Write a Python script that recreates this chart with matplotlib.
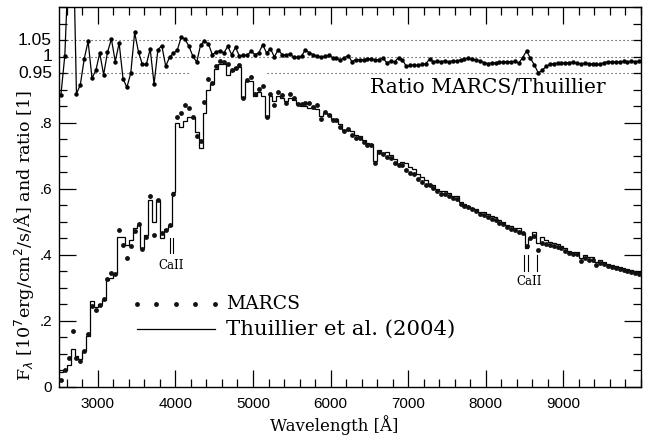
import numpy as np
import matplotlib
matplotlib.use("Agg")
import matplotlib.pyplot as plt
from matplotlib.ticker import MultipleLocator, FixedLocator
import matplotlib.transforms as mtransforms

# ---------------- data ----------------
bin_width = 50
wavelength = np.arange(2525, 10000, bin_width)  # bin centres [A]

marcs = [
    0.020, 0.051, 0.088, 0.170, 0.088, 0.079, 0.109, 0.159, 0.245, 0.233,
    0.248, 0.266, 0.328, 0.345, 0.342, 0.475, 0.431, 0.390, 0.428, 0.471,
    0.494, 0.417, 0.455, 0.577, 0.460, 0.565, 0.466, 0.474, 0.490, 0.585,
    0.816, 0.830, 0.853, 0.845, 0.816, 0.760, 0.745, 0.862, 0.933, 0.919,
    0.970, 0.988, 0.984, 0.979, 0.958, 0.966, 0.975, 0.874, 0.930, 0.939,
    0.887, 0.903, 0.912, 0.818, 0.887, 0.852, 0.892, 0.883, 0.859, 0.888,
    0.875, 0.856, 0.855, 0.859, 0.859, 0.848, 0.852, 0.812, 0.832, 0.824,
    0.809, 0.807, 0.787, 0.776, 0.780, 0.764, 0.755, 0.753, 0.741, 0.733,
    0.731, 0.678, 0.711, 0.705, 0.697, 0.693, 0.679, 0.673, 0.673, 0.658,
    0.647, 0.644, 0.629, 0.620, 0.612, 0.610, 0.602, 0.592, 0.585, 0.584,
    0.579, 0.572, 0.569, 0.554, 0.549, 0.545, 0.539, 0.533, 0.524, 0.521,
    0.513, 0.508, 0.505, 0.496, 0.492, 0.484, 0.479, 0.474, 0.470, 0.466,
    0.427, 0.450, 0.458, 0.415, 0.435, 0.432, 0.430, 0.427, 0.424, 0.420,
    0.412, 0.405, 0.403, 0.401, 0.380, 0.390, 0.385, 0.383, 0.368, 0.376,
    0.371, 0.366, 0.364, 0.361, 0.358, 0.355, 0.352, 0.349, 0.346, 0.342,
]

thuillier = [
    0.046, 0.050, 0.066, 0.115, 0.095, 0.085, 0.110, 0.155, 0.259, 0.243,
    0.250, 0.262, 0.325, 0.330, 0.342, 0.455, 0.455, 0.430, 0.445, 0.482,
    0.490, 0.420, 0.460, 0.567, 0.500, 0.567, 0.450, 0.478, 0.487, 0.590,
    0.800, 0.786, 0.804, 0.817, 0.817, 0.772, 0.723, 0.829, 0.900, 0.917,
    0.961, 0.976, 0.976, 0.945, 0.955, 0.968, 0.968, 0.875, 0.925, 0.925,
    0.880, 0.893, 0.880, 0.816, 0.880, 0.865, 0.880, 0.875, 0.865, 0.875,
    0.868, 0.855, 0.850, 0.850, 0.845, 0.845, 0.840, 0.819, 0.829, 0.826,
    0.811, 0.811, 0.795, 0.779, 0.778, 0.776, 0.762, 0.761, 0.748, 0.739,
    0.735, 0.685, 0.717, 0.708, 0.711, 0.703, 0.690, 0.675, 0.680, 0.678,
    0.665, 0.661, 0.646, 0.635, 0.626, 0.615, 0.611, 0.600, 0.594, 0.592,
    0.588, 0.579, 0.577, 0.560, 0.553, 0.548, 0.543, 0.538, 0.531, 0.531,
    0.524, 0.518, 0.515, 0.505, 0.500, 0.491, 0.487, 0.481, 0.480, 0.467,
    0.420, 0.452, 0.470, 0.436, 0.454, 0.445, 0.440, 0.436, 0.433, 0.428,
    0.420, 0.412, 0.410, 0.409, 0.389, 0.398, 0.393, 0.392, 0.377, 0.385,
    0.378, 0.372, 0.370, 0.367, 0.364, 0.360, 0.358, 0.354, 0.351, 0.347,
]

ratio = [
    0.885, 1.003, 1.300, 1.450, 0.887, 0.915, 0.993, 1.046, 0.935, 0.958,
    1.011, 0.945, 1.013, 1.053, 0.985, 1.041, 0.933, 0.907, 0.950, 1.073,
    1.013, 0.976, 0.976, 1.023, 0.917, 1.021, 1.033, 0.971, 0.998, 1.010,
    1.020, 1.059, 1.052, 1.031, 1.001, 0.983, 1.036, 1.046, 1.039, 1.006,
    1.014, 1.018, 1.011, 1.031, 1.006, 1.028, 1.001, 1.004, 1.004, 1.016,
    1.006, 1.011, 1.036, 1.011, 1.024, 0.999, 1.021, 1.006, 1.004, 1.008,
    0.998, 0.998, 1.001, 1.021, 1.011, 1.006, 1.001, 0.998, 1.001, 1.004,
    0.997, 0.995, 0.990, 0.996, 1.003, 0.985, 0.991, 0.990, 0.991, 0.992,
    0.994, 0.990, 0.991, 0.996, 0.981, 0.986, 0.984, 0.997, 0.990, 0.971,
    0.973, 0.974, 0.973, 0.976, 0.978, 0.992, 0.985, 0.986, 0.985, 0.987,
    0.984, 0.988, 0.986, 0.990, 0.993, 0.995, 0.992, 0.990, 0.987, 0.982,
    0.979, 0.981, 0.980, 0.983, 0.984, 0.985, 0.984, 0.986, 0.980, 0.997,
    1.017, 0.995, 0.975, 0.951, 0.958, 0.970, 0.976, 0.979, 0.980, 0.981,
    0.981, 0.982, 0.983, 0.980, 0.978, 0.980, 0.979, 0.977, 0.976, 0.976,
    0.982, 0.985, 0.983, 0.984, 0.983, 0.986, 0.984, 0.986, 0.985, 0.986,
]

ratio_guides = [0.95, 1.0, 1.05]
ratio_labels = ["0.95", "1", "1.05"]
flux_ticks = [0.0, 0.2, 0.4, 0.6, 0.8]
flux_labels = ["0", ".2", ".4", ".6", ".8"]
x_ticks = [3000, 4000, 5000, 6000, 7000, 8000, 9000]
caII_hk = [3934, 3968]
caII_ir = [8498, 8542, 8662]

# ---------------- figure ----------------
serif = "DejaVu Serif"
sans = "Liberation Sans"

fig = plt.figure(figsize=(6.49, 4.41), dpi=100)
ax = fig.add_axes([59 / 649, 1 - 387 / 441, 582 / 649, 380 / 441])

wl = np.asarray(wavelength)
edges = np.append(wl - bin_width / 2, wl[-1] + bin_width / 2)

dot_style = dict(color="#333333", lw=0.8, ls=(0, (1.0, 2.6)), zorder=1)
ax.axhline(1.05, **dot_style)
ax.axhline(1.00, **dot_style)
ax.plot([2500, 4180], [0.95, 0.95], **dot_style)
ax.plot([5185, 10000], [0.95, 0.95], **dot_style)

# Thuillier histogram
ax.stairs(thuillier, edges, color="black", lw=0.9, baseline=None, zorder=2)
# MARCS points
ax.plot(wl, marcs, ls="none", marker="o", ms=3.5, color="#111111", mew=0, zorder=3)
# ratio
ax.plot(wl, ratio, color="black", lw=0.9, marker="o", ms=3.2, mew=0, zorder=3)

# Ca II markers
for w in caII_hk:
    ax.plot([w, w], [0.405, 0.452], color="black", lw=0.8)
for w in caII_ir:
    ax.plot([w, w], [0.350, 0.398], color="black", lw=0.8)
ax.text(3950, 0.368, "CaII", family=serif, fontsize=8.5, ha="center", va="center")
ax.text(8562, 0.318, "CaII", family=serif, fontsize=8.5, ha="center", va="center")

ax.text(0.534, 0.787, "Ratio MARCS/Thuillier", transform=ax.transAxes,
        family=serif, fontsize=14.6, ha="left", va="center")

# legend drawn by hand
ax.plot([0.134 + k * 0.0335 for k in range(5)], [0.218] * 5, transform=ax.transAxes,
        ls="none", marker="o", ms=3.5, color="#111111", mew=0, clip_on=False)
ax.text(0.287, 0.218, "MARCS", transform=ax.transAxes, family=serif, fontsize=13.5,
        ha="left", va="center")
ax.plot([0.134, 0.268], [0.153, 0.153], transform=ax.transAxes, color="black", lw=0.9)
ax.text(0.287, 0.153, "Thuillier et al. (2004)", transform=ax.transAxes, family=serif,
        fontsize=15.3, ha="left", va="center")

# axes
ax.set_xlim(2500, 10000)
ax.set_ylim(0, 1.15)

ax.xaxis.set_major_locator(FixedLocator(x_ticks))
ax.xaxis.set_minor_locator(MultipleLocator(200))
ax.set_xticklabels([str(t) for t in x_ticks], family=sans, fontsize=11)

ax.yaxis.set_major_locator(FixedLocator(flux_ticks))
ax.yaxis.set_minor_locator(MultipleLocator(0.05))
ax.set_yticklabels(flux_labels, family=sans, fontsize=11)

ax.tick_params(which="both", direction="in", top=True, right=True, color="black", width=0.9)
ax.tick_params(which="major", length=12)
ax.tick_params(which="minor", length=6)
ax.tick_params(axis="x", which="major", pad=7)
ax.tick_params(axis="y", which="major", pad=5)

trans = mtransforms.blended_transform_factory(ax.transAxes, ax.transData)
for v, lab in zip(ratio_guides, ratio_labels):
    ax.text(-0.012, v, lab, transform=trans, family=sans, fontsize=12.5,
            ha="right", va="center")

for s in ax.spines.values():
    s.set_linewidth(1.0)

ax.set_xlabel("Wavelength [Å]", family=serif, fontsize=12, va="center")
ax.xaxis.set_label_coords(0.472, -0.1)
ax.set_ylabel(r"F$_\lambda$ [10$^7$erg/cm$^2$/s/Å] and ratio [1]", family=serif,
              fontsize=12.6, va="center")
ax.yaxis.set_label_coords(-0.058, 0.40)

fig.savefig("out.png", dpi=100)
